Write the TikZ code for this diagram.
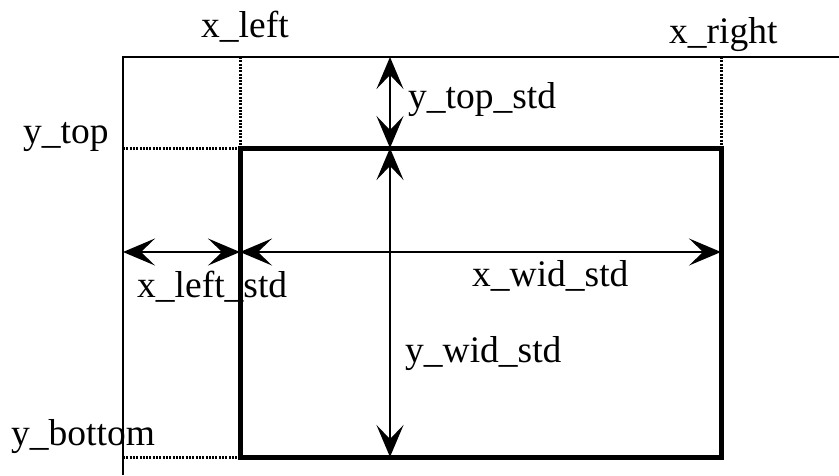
\documentclass[tikz,border=0pt]{standalone}
\usepackage{fontspec}
\setmainfont{Liberation Serif}
\usetikzlibrary{arrows.meta}
\begin{document}
\begin{tikzpicture}[x=1pt,y=-1pt,
  lbl/.style={anchor=base west,inner sep=0pt,font=\fontsize{37.5}{42}\selectfont},
  frame/.style={line width=2.6pt},
  box/.style={line width=5pt},
  guide/.style={line width=3pt,dash pattern=on 2pt off 1.3pt},
  dim/.style={line width=2.4pt,{Stealth[length=32pt,width=27pt,inset=14pt]}-{Stealth[length=32pt,width=27pt,inset=14pt]}}]
\useasboundingbox (0,0) rectangle (839,475);
% coordinates
\coordinate (oTL) at (123,57);
\coordinate (oTR) at (839,57);
\coordinate (oBL) at (123,475);
\coordinate (iTL) at (240,148);
\coordinate (iTR) at (721,148);
\coordinate (iBL) at (240,457);
\coordinate (iBR) at (721,457);
\coordinate (gL) at (240,57);
\coordinate (gR) at (721,57);
\coordinate (gT) at (123,148);
\coordinate (gB) at (123,457);
\coordinate (aT) at (390,57);
\coordinate (aM) at (390,148);
\coordinate (aB) at (390,457);
\coordinate (hL) at (123,252);
\coordinate (hM) at (240,252);
\coordinate (hR) at (721,252);
% frame
\draw[frame] (oBL) -- (oTL) -- (oTR);
% guides
\draw[guide] (gL) -- (iTL);
\draw[guide] (gR) -- (iTR);
\draw[guide] (gT) -- (iTL);
\draw[guide] (gB) -- (iBL);
% inner box
\draw[box] (iTL) rectangle (iBR);
% dimension arrows
\draw[dim] (aT) -- (aM);
\draw[dim] (aM) -- (aB);
\draw[dim] (hL) -- (hM);
\draw[dim] (hM) -- (hR);
% labels
\node[lbl] (xleft) at (201,37) {x\_left};
\node[lbl] (xright) at (669,43) {x\_right};
\node[lbl] (ytop) at (23,143) {y\_top};
\node[lbl] (ytopstd) at (408,108) {y\_top\_std};
\node[lbl] (xleftstd) at (137,297) {x\_left\_std};
\node[lbl] (xwidstd) at (472,286) {x\_wid\_std};
\node[lbl] (ywidstd) at (405,362) {y\_wid\_std};
\node[lbl] (ybottom) at (11,445) {y\_bottom};
\end{tikzpicture}
\end{document}
